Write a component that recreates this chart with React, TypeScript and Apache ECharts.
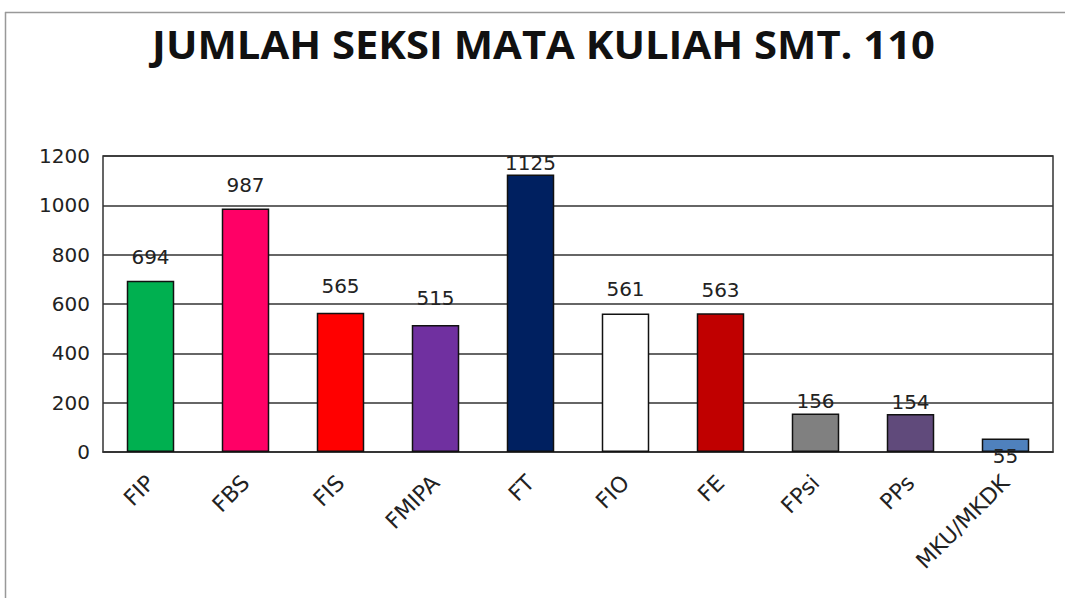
import React, { useEffect, useRef } from "react";
import * as echarts from "echarts";

const TITLE = "JUMLAH SEKSI MATA KULIAH SMT. 110";
const categories = ["FIP", "FBS", "FIS", "FMIPA", "FT", "FIO", "FE", "FPsi", "PPs", "MKU/MKDK"];
const values = [694, 987, 565, 515, 1125, 561, 563, 156, 154, 55];
const barColors = ["#00B050", "#FF0066", "#FF0000", "#7030A0", "#002060", "#FFFFFF", "#C00000", "#808080", "#604A7B", "#4F81BD"];
const labelDistances = [14, 14, 17, 17, 2, 15, 13, 3, 2, -28];
const yTicks = { min: 0, max: 1200, interval: 200 };

export default function App() {
  const ref = useRef<HTMLDivElement>(null);
  useEffect(() => {
    if (!ref.current) return;
    const chart = echarts.init(ref.current, null, { renderer: "svg" });
    const font = "DejaVu Sans";
    const titleFont = "bold 39px 'Open Sans'";
    let titleScale = 0.85;
    try {
      const ctx = document.createElement("canvas").getContext("2d");
      if (ctx) {
        ctx.font = titleFont;
        const w = ctx.measureText(TITLE).width;
        if (w > 0) titleScale = 783 / w;
      }
    } catch (e) {}
    chart.setOption({
      animation: false,
      backgroundColor: "#ffffff",
      graphic: [
        { type: "line", shape: { x1: 5, y1: 12.5, x2: 1065, y2: 12.5 }, style: { stroke: "#999", lineWidth: 1.5 } },
        { type: "line", shape: { x1: 5.5, y1: 12, x2: 5.5, y2: 598 }, style: { stroke: "#999", lineWidth: 1.5 } },
        {
          type: "text",
          x: 543.5,
          y: 44,
          scaleX: titleScale,
          originX: 0,
          style: {
            text: TITLE,
            font: titleFont,
            fill: "#111",
            align: "center",
            verticalAlign: "middle",
          },
        },
      ],
      grid: {
        left: 103,
        right: 12,
        top: 156,
        bottom: 146,
        show: true,
        borderColor: "#333",
        borderWidth: 1.5,
        containLabel: false,
      },
      xAxis: {
        type: "category",
        data: categories,
        axisLine: { show: true, lineStyle: { color: "#333", width: 1.5 } },
        axisTick: { show: false },
        axisLabel: {
          rotate: 45,
          interval: 0,
          margin: 27,
          fontFamily: font,
          fontSize: 22,
          color: "#222",
        },
      },
      yAxis: {
        type: "value",
        min: yTicks.min,
        max: yTicks.max,
        interval: yTicks.interval,
        axisLine: { show: false },
        axisTick: { show: false },
        splitLine: { show: true, lineStyle: { color: "#333", width: 1.5 } },
        axisLabel: {
          margin: 13,
          fontFamily: font,
          fontSize: 20,
          color: "#222",
          formatter: (v: number) => String(v),
        },
      },
      series: [
        {
          type: "bar",
          barWidth: "50%",
          data: values.map((v, i) => ({
            value: v,
            itemStyle: { color: barColors[i], borderColor: "#111", borderWidth: 1.5 },
            label: { distance: labelDistances[i] },
          })),
          label: {
            show: true,
            position: "top",
            fontFamily: font,
            fontSize: 20,
            color: "#222",
          },
        },
      ],
    });
    return () => chart.dispose();
  }, []);
  return (
    <div
      ref={ref}
      style={{ position: "absolute", left: 0, top: 0, width: 1065, height: 598 }}
    />
  );
}
